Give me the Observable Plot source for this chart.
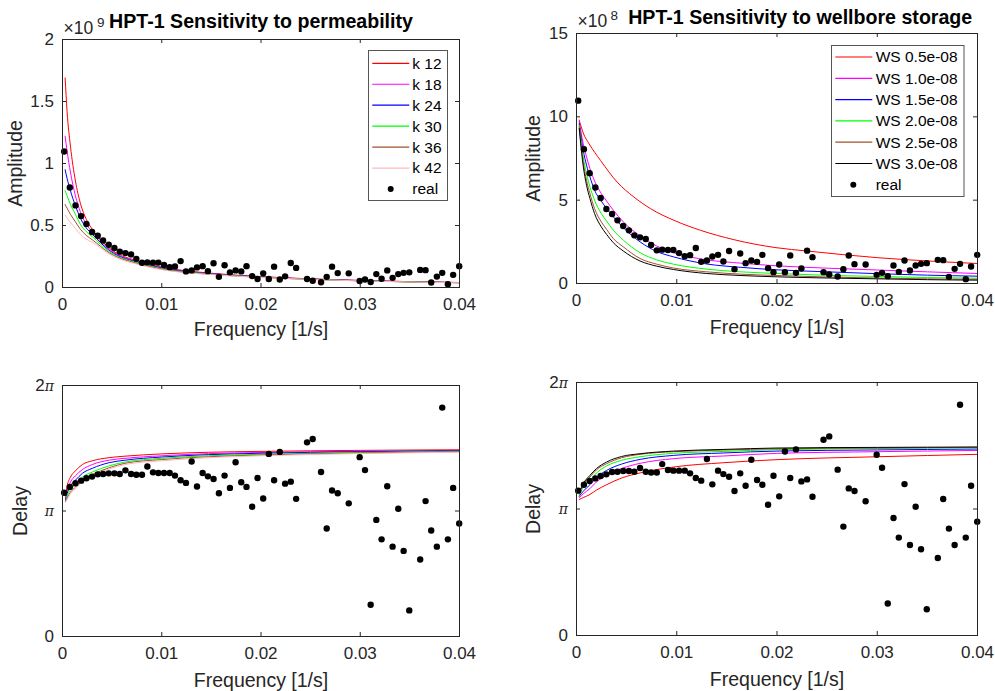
<!DOCTYPE html>
<html><head><meta charset="utf-8">
<script src="https://cdn.jsdelivr.net/npm/d3@7"></script>
<script src="https://cdn.jsdelivr.net/npm/@observablehq/plot@0.6"></script>
<style>
html,body{margin:0;padding:0;background:#fff;}
#fig{position:relative;width:995px;height:691px;overflow:hidden;background:#fff;font-family:"Liberation Sans",Arial,Helvetica,sans-serif;}
</style></head><body><div id="fig"></div>
<script>
// ---------- measured data ----------
const freq = [0.00017,0.00074,0.00131,0.00188,0.00241,0.00298,0.00355,0.00409,0.00466,0.00523,0.00577,0.00634,0.00691,0.00744,0.00801,0.00855,0.00912,0.00966,0.01023,0.01080,0.01133,0.01190,0.01244,0.01301,0.01355,0.01412,0.01465,0.01522,0.01576,0.01633,0.01687,0.01744,0.01801,0.01854,0.01911,0.01965,0.02022,0.02079,0.02132,0.02189,0.02243,0.02300,0.02354,0.02464,0.02521,0.02605,0.02662,0.02716,0.02773,0.02884,0.02994,0.03048,0.03105,0.03162,0.03215,0.03272,0.03326,0.03383,0.03437,0.03494,0.03604,0.03658,0.03715,0.03772,0.03826,0.03883,0.03936,0.03997];
// amplitude of the real data, in units of 1e8
const realAmp = [10.97,8.06,6.62,5.76,5.13,4.47,4.17,3.79,3.45,3.19,2.89,2.77,2.67,2.31,1.99,2.03,2.01,2.01,1.82,1.64,1.70,2.13,1.30,1.38,1.62,1.72,1.32,1.95,0.86,1.80,1.22,1.38,1.30,1.72,0.92,0.68,1.14,0.68,1.68,0.64,0.90,1.97,1.58,0.68,0.54,0.42,0.86,1.68,1.16,1.14,0.52,0.64,0.44,1.08,0.70,1.38,0.78,1.08,1.18,1.22,1.42,1.40,0.40,0.88,1.18,0.26,1.02,1.72];
// delay of the real data, in units of pi
const realDelay = [1.145,1.192,1.221,1.242,1.261,1.274,1.292,1.295,1.300,1.300,1.295,1.324,1.295,1.289,1.289,1.355,1.308,1.303,1.303,1.303,1.282,1.245,1.224,1.395,1.195,1.303,1.276,1.255,1.142,1.282,1.184,1.389,1.229,1.192,1.034,1.263,1.100,1.455,1.245,1.471,1.218,1.234,1.097,1.547,1.574,1.311,0.861,1.163,1.142,1.061,1.429,1.326,0.253,0.929,0.774,1.197,0.716,1.018,0.682,0.208,0.613,1.079,0.845,0.716,1.824,0.774,1.184,0.900];

// permeability model curves: amplitude (1e9)
const kFreq = [0.000265,0.00046,0.0008,0.0013,0.0018,0.0024,0.003,0.0047,0.008,0.01,0.015,0.02,0.03,0.04];
const ampK12 = [1.69,1.42,1.14,0.86,0.68,0.55,0.47,0.32,0.205,0.165,0.115,0.088,0.057,0.040];
const ampK18 = [1.22,1.10,0.93,0.74,0.61,0.51,0.45,0.31,0.200,0.160,0.112,0.086,0.056,0.040];
const ampK24 = [0.95,0.88,0.78,0.66,0.56,0.48,0.43,0.30,0.195,0.156,0.110,0.085,0.055,0.039];
const ampK30 = [0.78,0.74,0.67,0.59,0.51,0.45,0.41,0.29,0.190,0.152,0.108,0.083,0.054,0.039];
const ampK36 = [0.67,0.64,0.59,0.53,0.47,0.42,0.385,0.28,0.184,0.148,0.106,0.082,0.054,0.038];
const ampK42 = [0.585,0.56,0.525,0.475,0.43,0.39,0.365,0.27,0.178,0.144,0.104,0.081,0.053,0.038];
// permeability model curves: delay (pi)
const dkFreq = [0.0003,0.00047,0.0008,0.0013,0.002,0.003,0.0047,0.0063,0.01,0.0147,0.02,0.03,0.04];
const delK12 = [1.12,1.20,1.27,1.32,1.37,1.40,1.425,1.437,1.455,1.468,1.475,1.483,1.488];
const delK18 = [1.10,1.16,1.23,1.28,1.33,1.37,1.405,1.42,1.44,1.457,1.466,1.476,1.483];
const delK24 = [1.09,1.14,1.20,1.245,1.30,1.34,1.385,1.405,1.43,1.449,1.46,1.472,1.48];
const delK30 = [1.08,1.12,1.17,1.21,1.27,1.31,1.36,1.39,1.42,1.44,1.452,1.466,1.476];
const delK36 = [1.075,1.105,1.15,1.19,1.25,1.29,1.345,1.38,1.41,1.432,1.446,1.462,1.472];
const delK42 = [1.07,1.09,1.14,1.175,1.235,1.277,1.335,1.37,1.40,1.425,1.44,1.458,1.468];

// wellbore storage model curves: amplitude (1e8)
const ws05Freq = [0.00027,0.00067,0.00126,0.0024,0.00406,0.00572,0.00739,0.00988,0.01238,0.0157,0.0199,0.023,0.03,0.036,0.04];
const ampWS05 = [9.81,9.03,8.38,7.38,6.08,5.19,4.49,3.75,3.19,2.63,2.15,1.95,1.55,1.32,1.2];
const wsFreq = [0.00027,0.00067,0.001,0.00134,0.0018,0.00247,0.003,0.00367,0.00467,0.00634,0.008,0.00967,0.013,0.0164,0.02,0.025,0.03,0.035,0.04];
const ampWS10 = [9.72,8.4,7.6,6.9,6.15,5.4,4.95,4.4,3.7,2.85,2.25,1.85,1.42,1.22,1.06,0.92,0.81,0.7,0.6];
const ampWS15 = [9.6,8.0,7.1,6.4,5.6,4.95,4.5,4.0,3.35,2.5,1.92,1.6,1.17,0.97,0.82,0.7,0.59,0.5,0.44];
const ampWS20 = [9.5,7.6,6.6,5.8,5.0,4.2,3.75,3.2,2.6,1.85,1.42,1.16,0.86,0.70,0.6,0.49,0.42,0.36,0.32];
const ampWS25 = [9.4,7.3,6.2,5.4,4.5,3.7,3.25,2.7,2.2,1.5,1.16,0.93,0.70,0.56,0.48,0.39,0.33,0.28,0.25];
const ampWS30 = [9.3,7.05,5.9,5.1,4.2,3.4,2.95,2.45,1.95,1.35,1.04,0.84,0.60,0.48,0.40,0.33,0.28,0.23,0.20];
// wellbore storage model curves: delay (pi)
const dwFreq = [0.00027,0.00067,0.00134,0.002,0.003,0.0045,0.00634,0.0097,0.0147,0.02,0.03,0.04];
const delWS05 = [1.075,1.09,1.115,1.15,1.192,1.245,1.285,1.332,1.366,1.39,1.413,1.432];
const delWS10 = [1.09,1.12,1.161,1.215,1.266,1.32,1.361,1.398,1.419,1.44,1.453,1.463];
const delWS15 = [1.10,1.14,1.192,1.25,1.305,1.355,1.392,1.424,1.443,1.458,1.467,1.474];
const delWS20 = [1.11,1.17,1.226,1.285,1.340,1.385,1.413,1.440,1.455,1.469,1.478,1.484];
const delWS25 = [1.12,1.19,1.253,1.31,1.358,1.405,1.432,1.453,1.466,1.476,1.482,1.488];
const delWS30 = [1.13,1.20,1.266,1.32,1.371,1.415,1.437,1.458,1.471,1.482,1.487,1.490];

// labels, colours, ticks
const kLabels = ["k 12","k 18","k 24","k 30","k 36","k 42"];
const kColors = ["#ff0000","#ff00ff","#0000ff","#00ff00","#a0522d","#ffb6c1"];
const wsLabels = ["WS 0.5e-08","WS 1.0e-08","WS 1.5e-08","WS 2.0e-08","WS 2.5e-08","WS 3.0e-08"];
const wsColors = ["#ff0000","#ff00ff","#0000ff","#00ff00","#a0522d","#000000"];
const xTicks = [0,0.01,0.02,0.03,0.04];
const ampKTicks = [0,0.5,1,1.5,2];
const ampWSTicks = [0,5,10,15];
const delayTicks = [0,1,2];
const delayTickLabels = ["0","π","2π"];
const titles = ["HPT-1 Sensitivity to permeability","HPT-1 Sensitivity to wellbore storage"];

// ---------- build tables ----------
function curves(fxs, arrays, labels, colors) {
  const rows = [];
  arrays.forEach((arr, j) => arr.forEach((v, i) => rows.push({f: fxs[j][i], v, series: labels[j], color: colors[j]})));
  return rows;
}
const kAmpRows = curves(Array(6).fill(kFreq), [ampK12,ampK18,ampK24,ampK30,ampK36,ampK42], kLabels, kColors);
const kDelRows = curves(Array(6).fill(dkFreq), [delK12,delK18,delK24,delK30,delK36,delK42], kLabels, kColors);
const wsAmpRows = curves([ws05Freq, wsFreq, wsFreq, wsFreq, wsFreq, wsFreq], [ampWS05,ampWS10,ampWS15,ampWS20,ampWS25,ampWS30], wsLabels, wsColors);
const wsDelRows = curves(Array(6).fill(dwFreq), [delWS05,delWS10,delWS15,delWS20,delWS25,delWS30], wsLabels, wsColors);
const realAmpK = freq.map((f, i) => ({f, v: realAmp[i] / 10}));
const realAmpWS = freq.map((f, i) => ({f, v: realAmp[i]}));
const realDel = freq.map((f, i) => ({f, v: realDelay[i]}));

// ---------- drawing ----------
const FONT = '"Liberation Sans", Arial, Helvetica, sans-serif';
const AX = "#262626";
const fig = document.getElementById("fig");

function panel(c) {
  const pw = c.W - c.ml - c.mr, ph = c.H - c.mt - c.mb;
  const marks = [
    Plot.line(c.lines, {x: "f", y: "v", z: "series", stroke: "color", strokeWidth: 1, curve: "monotone-x", clip: true}),
    Plot.dot(c.dots, {x: "f", y: "v", r: 3.2, fill: "#000", stroke: "none"}),
    Plot.frame({stroke: AX, strokeWidth: 1}),
    Plot.tickX(xTicks, {x: d => d, stroke: AX, insetTop: ph - 4}),
    Plot.tickX(xTicks, {x: d => d, stroke: AX, insetBottom: ph - 4}),
    Plot.tickY(c.yTicks, {y: d => d, stroke: AX, insetRight: pw - 4}),
    Plot.tickY(c.yTicks, {y: d => d, stroke: AX, insetLeft: pw - 4}),
    Plot.text(["Frequency [1/s]"], {text: d => d, frameAnchor: "bottom", textAnchor: "middle", lineAnchor: "middle", dy: c.xlDy, fontSize: 19.5, fill: AX}),
    Plot.text([c.ylabel], {text: d => d, frameAnchor: "left", textAnchor: "middle", lineAnchor: "middle", dx: c.ylDx, rotate: -90, fontSize: 19.5, fill: AX})
  ];
  if (c.title) marks.push(Plot.text([c.title], {text: d => d, frameAnchor: "top", textAnchor: "middle", lineAnchor: "middle", dx: c.tDx, dy: c.tDy, fontSize: 19.6, fontWeight: "bold", fill: "#000"}));
  if (c.expo) {
    marks.push(Plot.text(["×10"], {text: d => d, frameAnchor: "top-left", textAnchor: "start", lineAnchor: "middle", dx: 1, dy: c.eDy, fontSize: 17.5, fill: AX}));
    marks.push(Plot.text([c.expo], {text: d => d, frameAnchor: "top-left", textAnchor: "start", lineAnchor: "middle", dx: c.eSupDx, dy: c.eDy - 6, fontSize: 13.5, fill: AX}));
  }
  const svg = Plot.plot({
    width: c.W, height: c.H,
    marginLeft: c.ml, marginRight: c.mr, marginTop: c.mt, marginBottom: c.mb,
    style: {fontFamily: FONT, fontSize: "17px", color: AX, background: "transparent", overflow: "visible"},
    color: {type: "identity"},
    x: {domain: [0, 0.04], ticks: xTicks, tickFormat: d => String(d), tickSize: 0, tickPadding: 10, label: null},
    y: {domain: c.yDomain, ticks: c.yTicks, tickFormat: c.yFmt, tickSize: 0, tickPadding: 8.5, label: null},
    marks
  });
  svg.style.position = "absolute";
  svg.style.left = c.left + "px";
  svg.style.top = c.top + "px";
  // TeX-like pi on tick labels
  svg.querySelectorAll("text").forEach(t => {
    if (t.children.length === 0 && t.textContent.includes("π")) {
      const pre = t.textContent.replace("π", "");
      t.textContent = pre;
      const ts = document.createElementNS("http://www.w3.org/2000/svg", "tspan");
      ts.setAttribute("font-family", '"DejaVu Serif","Liberation Serif",serif');
      ts.setAttribute("font-style", "italic");
      ts.setAttribute("font-size", "14");
      ts.textContent = "π";
      t.appendChild(ts);
    }
  });
  fig.appendChild(svg);
}

panel({left: 0, top: 0, W: 497, H: 345, ml: 62, mr: 38, mt: 39, mb: 58,
  lines: kAmpRows, dots: realAmpK, yDomain: [0, 2], yTicks: ampKTicks, yFmt: d => String(d),
  ylabel: "Amplitude", ylDx: -47, xlDy: 42, title: titles[0], tDx: 0, tDy: -17.6, expo: "9", eDy: -11, eSupDx: 34.5});
panel({left: 497, top: 0, W: 498, H: 345, ml: 79, mr: 18, mt: 33, mb: 62,
  lines: wsAmpRows, dots: realAmpWS, yDomain: [0, 15], yTicks: ampWSTicks, yFmt: d => String(d),
  ylabel: "Amplitude", ylDx: -42.7, xlDy: 44, title: titles[1], tDx: 23.2, tDy: -15.6, expo: "8", eDy: -11.7, eSupDx: 34});
panel({left: 0, top: 345, W: 497, H: 346, ml: 62, mr: 38, mt: 40, mb: 55,
  lines: kDelRows, dots: realDel, yDomain: [0, 2], yTicks: delayTicks, yFmt: d => delayTickLabels[delayTicks.indexOf(d)],
  ylabel: "Delay", ylDx: -41.3, xlDy: 44});
panel({left: 497, top: 345, W: 498, H: 346, ml: 79, mr: 18, mt: 37, mb: 56,
  lines: wsDelRows, dots: realDel, yDomain: [0, 2], yTicks: delayTicks, yFmt: d => delayTickLabels[delayTicks.indexOf(d)],
  ylabel: "Delay", ylDx: -42.7, xlDy: 44});

// ---------- legends ----------
const ov = d3.select(fig).append("svg")
  .attr("width", 995).attr("height", 691)
  .style("position", "absolute").style("left", "0px").style("top", "0px")
  .style("pointer-events", "none");
function legend(box, rows0, step, lineX1, lineX2, textX, dotX, labels, colors) {
  const g = ov.append("g").style("font-family", FONT).style("font-size", "15.5px");
  g.append("rect").attr("x", box[0]).attr("y", box[1]).attr("width", box[2]).attr("height", box[3])
    .attr("fill", "#fff").attr("stroke", "#555").attr("stroke-width", 1);
  labels.forEach((lab, i) => {
    const y = rows0 + i * step;
    g.append("line").attr("x1", lineX1).attr("x2", lineX2).attr("y1", y).attr("y2", y)
      .attr("stroke", colors[i]).attr("stroke-width", 1.2);
    g.append("text").attr("x", textX).attr("y", y).attr("dy", "0.35em").attr("fill", "#000").text(lab);
  });
  const yr = rows0 + labels.length * step;
  g.append("circle").attr("cx", dotX).attr("cy", yr).attr("r", 3).attr("fill", "#000");
  g.append("text").attr("x", textX).attr("y", yr).attr("dy", "0.35em").attr("fill", "#000").text("real");
}
legend([368.5, 50.5, 79, 150], 63.3, 20.95, 372.3, 409.3, 412.3, 390.7, kLabels, kColors);
legend([831.5, 45.5, 132.5, 151], 57, 21.3, 835.3, 872.3, 875.7, 853.3, wsLabels, wsColors);
</script>
</body></html>
